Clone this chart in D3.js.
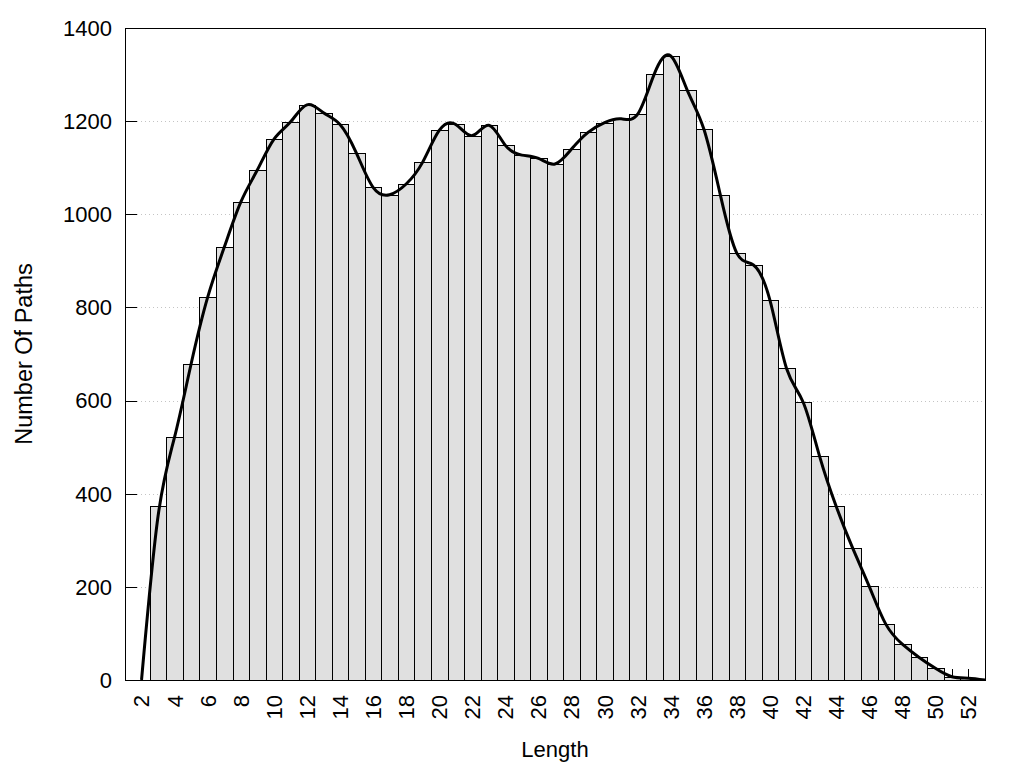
<!DOCTYPE html>
<html>
<head>
<meta charset="utf-8">
<script src="https://cdn.jsdelivr.net/npm/d3@7"></script>
<style>
  html, body { margin: 0; padding: 0; background: #fff; }
  svg { display: block; font-family: "Liberation Sans", Arial, sans-serif; }
</style>
</head>
<body>
<svg id="chart" width="1024" height="768"></svg>
<script>
// ---- data ----
const lengths = [3,4,5,6,7,8,9,10,11,12,13,14,15,16,17,18,19,20,21,22,23,24,25,26,27,28,29,30,31,32,33,34,35,36,37,38,39,40,41,42,43,44,45,46,47,48,49,50,51,52];
const counts  = [374,521,679,822,929,1026,1095,1161,1198,1235,1218,1193,1131,1058,1042,1065,1112,1180,1193,1169,1191,1148,1127,1120,1108,1140,1176,1197,1205,1215,1301,1340,1266,1183,1041,916,891,815,669,597,480,373,283,201,120,77,49,25,7,4];
// smoothed curve series
const smoothLengths = [2,3,4,5,6,7,8,9,10,11,12,13,14,15,16,17,18,19,20,21,22,23,24,25,26,27,28,29,30,31,32,33,34,35,36,37,38,39,40,41,42,43,44,45,46,47,48,49,50,51,52,53];
const smoothCounts  = [0,352,522,679,822,929,1026,1095,1161,1198,1235,1218,1193,1131,1058,1042,1065,1112,1180,1193,1169,1191,1148,1127,1120,1108,1140,1176,1197,1205,1215,1301,1340,1266,1183,1041,916,891,815,669,597,480,373,283,201,120,77,49,25,7,4,0];
const xTickLabels = [2,4,6,8,10,12,14,16,18,20,22,24,26,28,30,32,34,36,38,40,42,44,46,48,50,52];
const xTickMarks  = [2,3,4,5,6,7,8,9,10,11,12,13,14,15,16,17,18,19,20,21,22,23,24,25,26,27,28,29,30,31,32,33,34,35,36,37,38,39,40,41,42,43,44,45,46,47,48,49,50,51,52];
const yTicks = [0,200,400,600,800,1000,1200,1400];
const xTitle = "Length";
const yTitle = "Number Of Paths";

// ---- layout ----
const L = 125, R = 985, T = 28, B = 680;
const svg = d3.select("#chart");
const x = d3.scaleLinear().domain([1, 53]).range([L, R]);
const y = d3.scaleLinear().domain([0, 1400]).range([B, T]);
const FS = 22;

svg.append("defs").append("clipPath").attr("id", "clip")
  .append("rect").attr("x", L).attr("y", T).attr("width", R - L).attr("height", B - T);

// grid (dotted)
svg.append("g").selectAll("line").data(yTicks.filter(d => d > 0 && d < 1400)).join("line")
  .attr("x1", L).attr("x2", R)
  .attr("y1", d => Math.round(y(d)) + 0.5).attr("y2", d => Math.round(y(d)) + 0.5)
  .attr("stroke", "#c4c4c4").attr("stroke-width", 1).attr("stroke-dasharray", "1,3");

// y ticks (inward)
svg.append("g").selectAll("line").data(yTicks).join("line")
  .attr("x1", L).attr("x2", L + 12)
  .attr("y1", d => Math.round(y(d)) + 0.5).attr("y2", d => Math.round(y(d)) + 0.5)
  .attr("stroke", "#000").attr("stroke-width", 1);

// x ticks (inward)
svg.append("g").selectAll("line").data(xTickMarks).join("line")
  .attr("x1", d => Math.round(x(d)) + 0.5).attr("x2", d => Math.round(x(d)) + 0.5)
  .attr("y1", B).attr("y2", B - 11)
  .attr("stroke", "#000").attr("stroke-width", 1);

// bars
svg.append("g").selectAll("rect").data(lengths.map((l, i) => ({l, c: counts[i]}))).join("rect")
  .attr("x", d => Math.round(x(d.l - 0.5)) + 0.5)
  .attr("width", d => Math.round(x(d.l + 0.5)) - Math.round(x(d.l - 0.5)))
  .attr("y", d => Math.round(y(d.c)) + 0.5)
  .attr("height", d => Math.round(y(0)) - Math.round(y(d.c)))
  .attr("fill", "#e0e0e0").attr("stroke", "#000").attr("stroke-width", 1);

// smooth curve
const line = d3.line().x(d => x(d[0])).y(d => y(d[1])).curve(d3.curveNatural);
svg.append("path")
  .attr("clip-path", "url(#clip)")
  .attr("d", line(smoothLengths.map((l, i) => [l, smoothCounts[i]])))
  .attr("fill", "none").attr("stroke", "#000").attr("stroke-width", 3)
  .attr("stroke-linejoin", "round");

// border
svg.append("rect").attr("x", L + 0.5).attr("y", T + 0.5).attr("width", R - L).attr("height", B - T)
  .attr("fill", "none").attr("stroke", "#000").attr("stroke-width", 1);

// y tick labels
svg.append("g").selectAll("text").data(yTicks).join("text")
  .attr("x", L - 13).attr("y", d => y(d)).attr("dy", "0.36em")
  .attr("text-anchor", "end").attr("font-size", FS).attr("fill", "#000")
  .text(d => d);

// x tick labels (rotated)
svg.append("g").selectAll("text").data(xTickLabels).join("text")
  .attr("transform", d => `translate(${x(d)},${B + 15}) rotate(-90)`)
  .attr("dy", "0.36em")
  .attr("text-anchor", "end").attr("font-size", FS).attr("fill", "#000")
  .text(d => d);

// axis titles
svg.append("text").attr("x", (L + R) / 2).attr("y", 757)
  .attr("text-anchor", "middle").attr("font-size", FS).text(xTitle);
svg.append("text").attr("transform", `translate(32,${(T + B) / 2}) rotate(-90)`)
  .attr("text-anchor", "middle").attr("font-size", 23.5).text(yTitle);
</script>
</body>
</html>
